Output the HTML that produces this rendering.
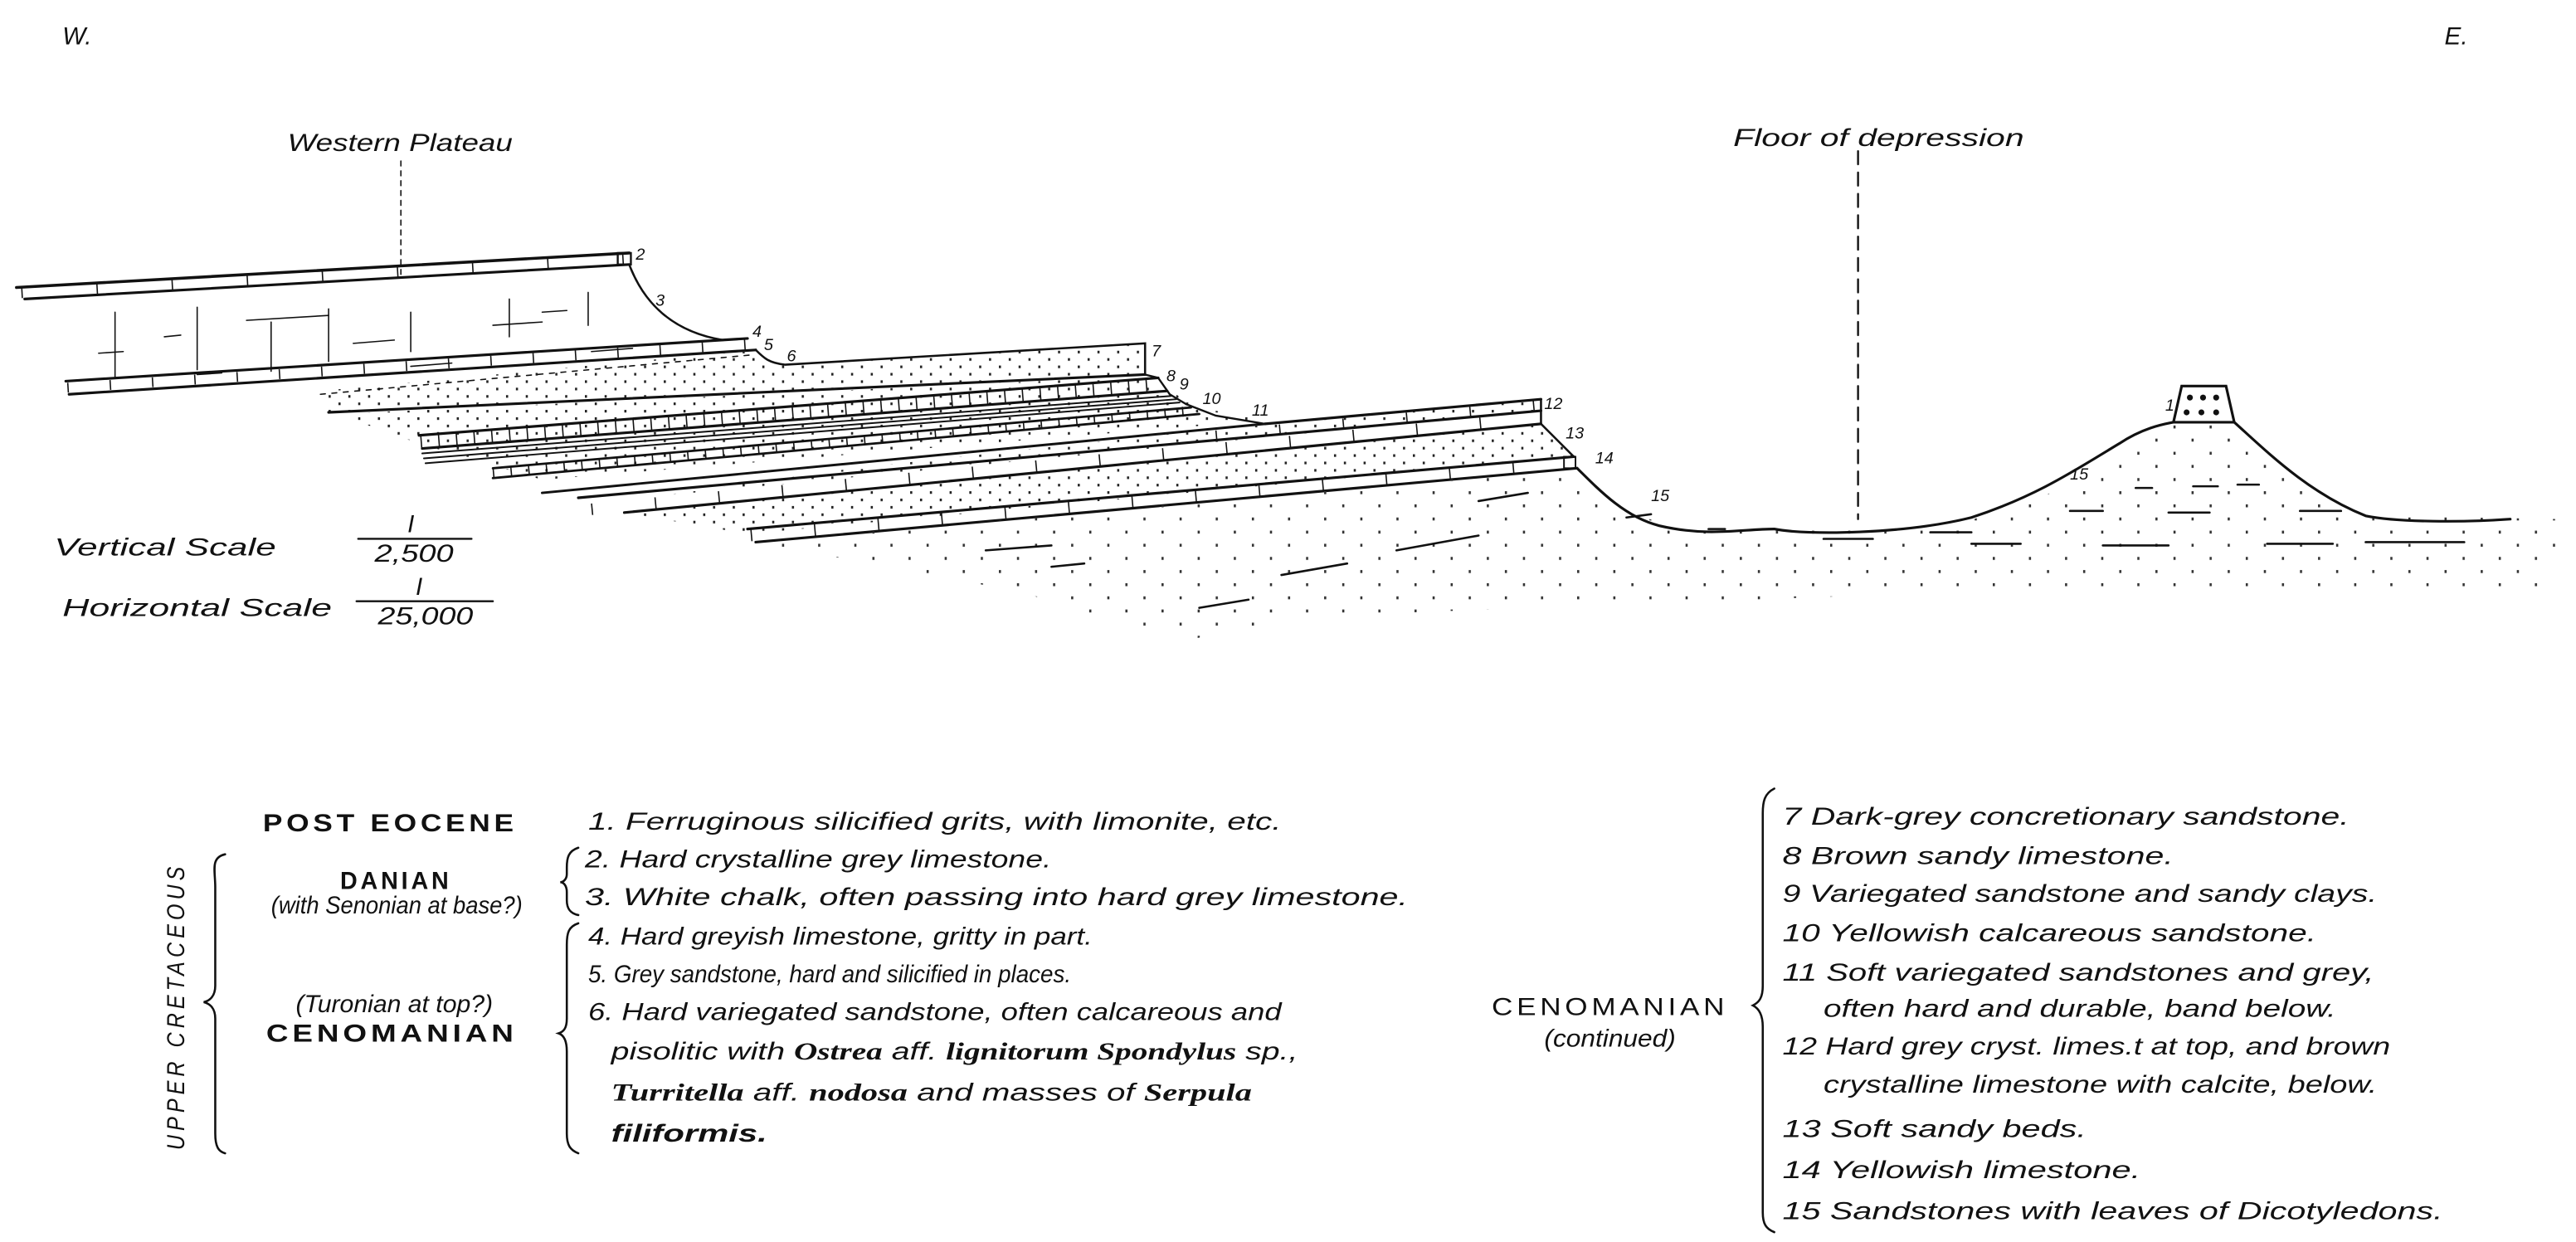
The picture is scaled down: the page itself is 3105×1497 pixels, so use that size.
<!DOCTYPE html>
<html><head><meta charset="utf-8"><style>
html,body{margin:0;padding:0;background:#fff;}
svg{display:block;}
text{font-family:"Liberation Sans",sans-serif;fill:#111;}
.it{font-style:italic;font-size:15px;}
.cap{font-size:15px;letter-spacing:2px;}
.tk{stroke-linecap:butt;}
</style></head><body>
<svg width="3105" height="1497" viewBox="0 0 1568 756" xmlns="http://www.w3.org/2000/svg">
<defs>
<pattern id="dots" width="12" height="9" patternUnits="userSpaceOnUse">
<rect x="2" y="2" width="1.3" height="1.6" fill="#222"/><rect x="8" y="6.5" width="1.3" height="1.6" fill="#222"/>
</pattern>
<pattern id="sdots" width="22" height="16" patternUnits="userSpaceOnUse">
<rect x="3" y="3" width="1.3" height="1.8" fill="#333"/><rect x="14" y="11" width="1.3" height="1.8" fill="#333"/>
</pattern>
</defs>
<g stroke="#111" fill="none" stroke-linecap="round">
<line x1="244" y1="98" x2="244" y2="168" stroke-width="0.8" stroke-dasharray="3 3"/>
<line x1="1131" y1="92" x2="1131" y2="316" stroke-width="1.2" stroke-dasharray="8 5"/>

<path d="M383,161 C392,185 410,202 440,207" stroke-width="1.3"/>
<g stroke-width="0.8">
<line x1="60" y1="215" x2="75" y2="214"/><line x1="150" y1="195" x2="200" y2="192"/><line x1="215" y1="209" x2="240" y2="207"/>
<line x1="300" y1="198" x2="330" y2="196"/><line x1="330" y1="190" x2="345" y2="189"/><line x1="250" y1="223" x2="275" y2="221"/>
<line x1="120" y1="228" x2="135" y2="227"/><line x1="360" y1="214" x2="385" y2="212"/><line x1="100" y1="205" x2="110" y2="204"/>
<line x1="70" y1="190" x2="70" y2="230"/><line x1="120" y1="187" x2="120" y2="225"/><line x1="165" y1="196" x2="165" y2="226"/>
<line x1="200" y1="188" x2="200" y2="220"/><line x1="250" y1="190" x2="250" y2="214"/><line x1="310" y1="182" x2="310" y2="205"/>
<line x1="358" y1="178" x2="358" y2="198"/>
</g>
<path d="M10,175 L383,154" stroke-width="1.8"/>
<path d="M15,182 L383,161" stroke-width="1.6"/>
<path class="tk" d="M13,178.5 L383,157.5" stroke-width="6" stroke-dasharray="0.8 45"/>
<rect x="376" y="154" width="8" height="7" stroke-width="1.2"/>
<path d="M40,232 L455,206" stroke-width="1.6"/>
<path d="M42,240 L460,213" stroke-width="1.6"/>
<path class="tk" d="M41,236 L457,209.5" stroke-width="6" stroke-dasharray="0.8 25"/>
<path d="M195,238 L460,213 L470,222 L697,209 L697,228 L200,251 Z" fill="url(#dots)" stroke="none"/>
<path d="M460,213 C465,218 468,221 478,222 L697,209 L697,228" stroke-width="1.3"/>
<path d="M200,251 L697,228" stroke-width="1.6"/>
<path d="M195,240 L458,216" stroke-width="0.8" stroke-dasharray="3 4"/>
<path d="M205,252 L697,229 L712,238 L730,248 L770,256 L330,292 L255,270 Z" fill="url(#dots)" stroke="none"/>
<path d="M255,265 L705,230" stroke-width="1.6"/>
<path d="M257,273 L710,238" stroke-width="1.6"/>
<path class="tk" d="M256,269 L707,234" stroke-width="8" stroke-dasharray="0.8 10"/>
<path d="M697,228 L705,230 L712,240 L722,246" stroke-width="1.2"/>
<g stroke-width="1"><path d="M257,276 L713,241"/><path d="M258,279 L716,243"/><path d="M259,282 L718,245"/></g>
<path d="M300,285 L725,248" stroke-width="1.4"/>
<path d="M300,291 L730,252" stroke-width="1.4"/>
<path class="tk" d="M300,288 L727,250" stroke-width="6" stroke-dasharray="0.8 10"/>
<path d="M722,246 L740,253 L770,258" stroke-width="1.2"/>
<path d="M330,300 L770,258" stroke-width="1.5"/>
<path d="M380,312 L938,258 C945,265 952,272 958,278 L455,325 Z" fill="url(#dots)" stroke="none"/>
<path d="M520,285 L770,258 L938,243 L938,250 L400,302 Z" fill="url(#dots)" stroke="none"/>
<path d="M770,258 L938,243" stroke-width="1.6"/>
<path d="M352,303 L938,250" stroke-width="1.6"/>
<path d="M380,312 L938,258" stroke-width="1.6"/>
<path class="tk" d="M740,265 L938,246.5" stroke-width="6" stroke-dasharray="0.8 38"/>
<path class="tk" d="M360,310 L938,254" stroke-width="7" stroke-dasharray="0.8 38"/>
<path d="M938,243 L938,258 C945,265 952,272 958,278" stroke-width="1.3"/>
<path d="M455,322 L958,278" stroke-width="1.6"/>
<path d="M460,330 L960,285" stroke-width="1.6"/>
<path class="tk" d="M457,326 L959,281.5" stroke-width="7" stroke-dasharray="0.8 38"/>
<rect x="952" y="278" width="7" height="7" stroke-width="1"/>
<path d="M460,330 L960,285 C975,300 990,312 1010,318 C1040,326 1080,320 1130,322 C1200,322 1240,310 1280,280 C1300,265 1315,258 1323,257 L1360,257 C1380,275 1410,305 1440,314 L1560,316 L1550,360 L1200,360 L800,375 L720,390 L620,360 L540,345 Z" fill="url(#sdots)" stroke="none"/>
<path d="M960,285 C975,300 990,315 1010,320 C1040,327 1060,322 1080,322 C1100,326 1160,325 1200,315 C1240,302 1265,285 1290,270 C1305,260 1318,258 1323,257" stroke-width="1.6"/>
<path d="M1360,257 C1380,275 1405,300 1440,314 C1460,318 1500,318 1528,316" stroke-width="1.6"/>
<path d="M1328,235 L1355,235 L1360,257 L1323,257 Z" fill="#fff" stroke-width="1.6"/>
<g fill="#111" stroke="none">
<circle cx="1333" cy="242" r="1.8"/><circle cx="1341" cy="242" r="1.8"/><circle cx="1349" cy="242" r="1.8"/>
<circle cx="1331" cy="251" r="1.8"/><circle cx="1340" cy="251" r="1.8"/><circle cx="1349" cy="251" r="1.8"/>
</g>
<g stroke-width="1.3">
<line x1="1335" y1="296" x2="1350" y2="296"/><line x1="1362" y1="295" x2="1375" y2="295"/><line x1="1300" y1="297" x2="1310" y2="297"/>
<line x1="1260" y1="311" x2="1280" y2="311"/><line x1="1320" y1="312" x2="1345" y2="312"/><line x1="1400" y1="311" x2="1425" y2="311"/>
<line x1="1200" y1="331" x2="1230" y2="331"/><line x1="1280" y1="332" x2="1320" y2="332"/><line x1="1380" y1="331" x2="1420" y2="331"/><line x1="1440" y1="330" x2="1500" y2="330"/>
<line x1="1110" y1="328" x2="1140" y2="328"/><line x1="1040" y1="322" x2="1050" y2="322"/>
<line x1="900" y1="305" x2="930" y2="300"/><line x1="850" y1="335" x2="900" y2="326"/><line x1="730" y1="370" x2="760" y2="365"/>
<line x1="780" y1="350" x2="820" y2="343"/><line x1="600" y1="335" x2="640" y2="332"/><line x1="640" y1="345" x2="660" y2="343"/>
<line x1="1175" y1="324" x2="1200" y2="324"/><line x1="990" y1="315" x2="1005" y2="313"/>
</g>
<line x1="218" y1="328" x2="287" y2="328" stroke-width="1.2"/>
<line x1="217" y1="366" x2="300" y2="366" stroke-width="1.2"/>
<path d="M137,520 C128,522 131,530 131,540 L131,600 C131,606 128,609 124,610 C128,611 131,614 131,620 L131,690 C131,698 133,701 137,702" stroke-width="1.3"/>
<path d="M352,516 C346,518 345,522 345,528 L345,532 C345,535 343,537 341,537 C343,537 345,539 345,543 L345,548 C345,553 347,556 352,557" stroke-width="1.3"/>
<path d="M352,562 C346,564 345,568 345,575 L345,620 C345,626 343,628 340,629 C343,630 345,633 345,640 L345,690 C345,697 347,700 352,702" stroke-width="1.3"/>
<path d="M1080,480 C1074,483 1073,488 1073,495 L1073,600 C1073,607 1071,610 1067,612 C1071,614 1073,618 1073,625 L1073,738 C1073,745 1075,748 1080,750" stroke-width="1.3"/>
</g>

<g>
<text class="it" x="38" y="27" font-size="14">W.</text>
<text class="it" x="1488" y="27" font-size="14">E.</text>
<text class="it" x="175" y="92" textLength="137" lengthAdjust="spacingAndGlyphs">Western Plateau</text>
<text class="it" x="1055" y="89" textLength="177" lengthAdjust="spacingAndGlyphs">Floor of depression</text>
<g font-size="10" font-style="italic">
<text x="387" y="158">2</text><text x="399" y="186">3</text><text x="458" y="205">4</text><text x="465" y="213">5</text><text x="479" y="220">6</text>
<text x="701" y="217">7</text><text x="710" y="232">8</text><text x="718" y="237">9</text><text x="732" y="246">10</text><text x="762" y="253">11</text>
<text x="940" y="249">12</text><text x="953" y="267">13</text><text x="971" y="282">14</text><text x="1005" y="305">15</text>
<text x="1260" y="292">15</text><text x="1318" y="250">1</text>
</g>
<text class="it" x="33" y="338" textLength="135" lengthAdjust="spacingAndGlyphs">Vertical Scale</text>
<text class="it" x="248" y="324" font-size="11">I</text>
<text class="it" x="228" y="342" font-size="12" textLength="48" lengthAdjust="spacingAndGlyphs">2,500</text>
<text class="it" x="38" y="375" textLength="164" lengthAdjust="spacingAndGlyphs">Horizontal Scale</text>
<text class="it" x="253" y="362" font-size="11">I</text>
<text class="it" x="230" y="380" font-size="12" textLength="58" lengthAdjust="spacingAndGlyphs">25,000</text>

<text class="cap" x="160" y="506" textLength="155" lengthAdjust="spacingAndGlyphs" font-weight="bold">POST EOCENE</text>
<text class="cap" x="207" y="541" textLength="68" lengthAdjust="spacingAndGlyphs" font-weight="bold">DANIAN</text>
<text class="it" x="165" y="556" font-size="11" textLength="153" lengthAdjust="spacingAndGlyphs" font-style="normal">(with Senonian at base?)</text>
<text class="it" x="180" y="616" font-size="12" textLength="120" lengthAdjust="spacingAndGlyphs" font-style="normal">(Turonian at top?)</text>
<text class="cap" x="162" y="634" textLength="153" lengthAdjust="spacingAndGlyphs" font-weight="bold">CENOMANIAN</text>
<text class="it" transform="translate(112,700) rotate(-90)" x="0" y="0" textLength="175" lengthAdjust="spacingAndGlyphs" letter-spacing="3">UPPER CRETACEOUS</text>

<text class="it" x="358" y="505" textLength="422" lengthAdjust="spacingAndGlyphs">1. Ferruginous silicified grits, with limonite, etc.</text>
<text class="it" x="356" y="528" textLength="284" lengthAdjust="spacingAndGlyphs">2. Hard crystalline grey limestone.</text>
<text class="it" x="356" y="551" textLength="501" lengthAdjust="spacingAndGlyphs">3. White chalk, often passing into hard grey limestone.</text>
<text class="it" x="358" y="575" textLength="307" lengthAdjust="spacingAndGlyphs">4. Hard greyish limestone, gritty in part.</text>
<text class="it" x="358" y="598" textLength="294" lengthAdjust="spacingAndGlyphs" font-size="16">5. Grey sandstone, hard and silicified in places.</text>
<text class="it" x="358" y="621" textLength="422" lengthAdjust="spacingAndGlyphs">6. Hard variegated sandstone, often calcareous and</text>
<text class="it" x="372" y="645" textLength="418" lengthAdjust="spacingAndGlyphs">pisolitic with <tspan font-family="Liberation Serif" font-weight="bold">Ostrea</tspan> aff. <tspan font-family="Liberation Serif" font-weight="bold">lignitorum Spondylus</tspan> sp.,</text>
<text class="it" x="372" y="670" textLength="390" lengthAdjust="spacingAndGlyphs"><tspan font-family="Liberation Serif" font-weight="bold">Turritella</tspan> aff. <tspan font-family="Liberation Serif" font-weight="bold">nodosa</tspan> and masses of <tspan font-family="Liberation Serif" font-weight="bold">Serpula</tspan></text>
<text class="it" x="372" y="695" textLength="95" lengthAdjust="spacingAndGlyphs" font-family="Liberation Serif" font-weight="bold">filiformis.</text>

<text class="cap" x="908" y="618" textLength="144" lengthAdjust="spacingAndGlyphs">CENOMANIAN</text>
<text class="it" x="940" y="637" font-size="12" textLength="80" lengthAdjust="spacingAndGlyphs" font-style="normal">(continued)</text>

<text class="it" x="1085" y="502" textLength="345" lengthAdjust="spacingAndGlyphs">7  Dark-grey concretionary sandstone.</text>
<text class="it" x="1085" y="526" textLength="238" lengthAdjust="spacingAndGlyphs">8  Brown sandy limestone.</text>
<text class="it" x="1085" y="549" textLength="362" lengthAdjust="spacingAndGlyphs">9  Variegated sandstone and sandy clays.</text>
<text class="it" x="1085" y="573" textLength="325" lengthAdjust="spacingAndGlyphs">10 Yellowish calcareous sandstone.</text>
<text class="it" x="1085" y="597" textLength="360" lengthAdjust="spacingAndGlyphs">11  Soft variegated sandstones and grey,</text>
<text class="it" x="1110" y="619" textLength="312" lengthAdjust="spacingAndGlyphs">often hard and durable, band below.</text>
<text class="it" x="1085" y="642" textLength="370" lengthAdjust="spacingAndGlyphs">12 Hard grey cryst. limes.t at top, and brown</text>
<text class="it" x="1110" y="665" textLength="337" lengthAdjust="spacingAndGlyphs">crystalline limestone with calcite, below.</text>
<text class="it" x="1085" y="692" textLength="185" lengthAdjust="spacingAndGlyphs">13  Soft sandy beds.</text>
<text class="it" x="1085" y="717" textLength="218" lengthAdjust="spacingAndGlyphs">14  Yellowish limestone.</text>
<text class="it" x="1085" y="742" textLength="402" lengthAdjust="spacingAndGlyphs">15  Sandstones with leaves of Dicotyledons.</text>
</g>
</svg>
</body></html>
